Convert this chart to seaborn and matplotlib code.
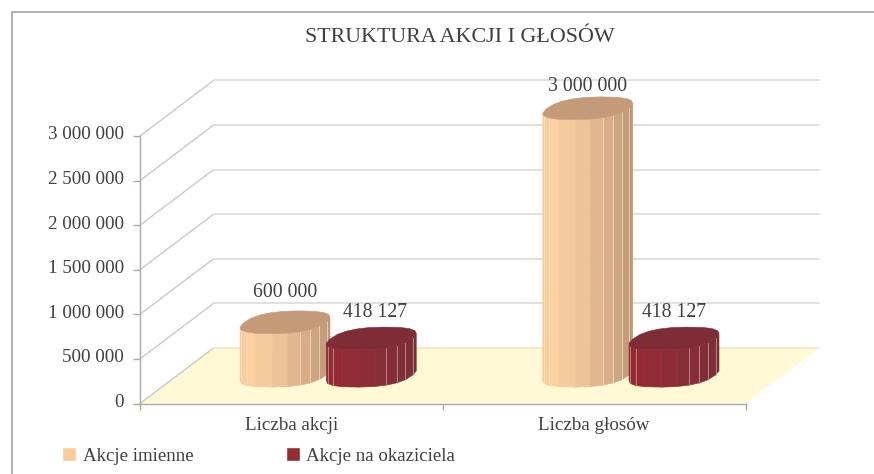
import numpy as np
import pandas as pd
import matplotlib
matplotlib.use("Agg")
import matplotlib.pyplot as plt
import matplotlib.transforms as mtrans
from matplotlib.lines import Line2D
import seaborn as sns

title = "STRUKTURA AKCJI I GŁOSÓW"
categories = ["Liczba akcji", "Liczba głosów"]
series_names = ["Akcje imienne", "Akcje na okaziciela"]
akcje_imienne = [600000, 3000000]
akcje_na_okaziciela = [418127, 418127]
y_ticks = [0, 500000, 1000000, 1500000, 2000000, 2500000, 3000000]

TEXT = "#404040"
GRID = "#DFDADA"
DIAG = "#CFC8C4"
AXIS = "#B0A8A4"
FLOOR = "#FFFAD5"

body_ramps = [
    ["#F4CA9E", "#FDD1A0", "#F1C79B", "#DDB38D", "#CBA380", "#BD9675"],
    ["#8A2B33", "#952B33", "#8F2C34", "#862E37", "#7F2F37", "#7A2F36"],
]
top_colors = ["#C49A79", "#7E2C35"]
line_colors = ["#FFE3C4", "#D8A4A4"]

sns.set_theme(style="white")
plt.rcParams["font.family"] = ["Liberation Serif", "DejaVu Serif"]


def fmt(v):
    return f"{v:,}".replace(",", " ")


df = pd.DataFrame({
    "kategoria": categories * 2,
    "seria": [series_names[0]] * 2 + [series_names[1]] * 2,
    "wartosc": akcje_imienne + akcje_na_okaziciela,
})

fig = plt.figure(figsize=(8.74, 4.74), dpi=100)
ax = fig.add_axes([140 / 874, (474 - 403.5) / 474, 605.5 / 874, 267.5 / 474])

sns.barplot(data=df, x="kategoria", y="wartosc", hue="seria", order=categories,
            hue_order=series_names, palette=["#FBCB98", "#942C31"], saturation=1,
            width=0.57, errorbar=None, ax=ax)

xmin, xmax, ymin, ymax = -0.5, 1.5, 0, 3000000
ax.set_xlim(xmin, xmax)
ax.set_ylim(ymin, ymax)

# depth of the fake 3d box, in data units
px_x = (xmax - xmin) / 605.5
px_y = (ymax - ymin) / 267.5
DX = 73.5 * px_x
DY = 55.5 * px_y

# floor and walls
ax.fill([xmin, xmax, xmax + DX, xmin + DX], [0, 0, DY, DY], color=FLOOR, lw=0,
        clip_on=False, zorder=1)
for v in y_ticks:
    ax.plot([xmin, xmin + DX], [v, v + DY], color=DIAG, lw=1, clip_on=False, zorder=1.5)
    if v > 0:
        ax.plot([xmin + DX, xmax + DX], [v + DY, v + DY], color=GRID, lw=1.2,
                clip_on=False, zorder=1.5)
ax.plot([xmin + DX, xmax + DX], [DY, DY], color="#EFE9CF", lw=1.3, clip_on=False, zorder=1.5)


# cylinders are built from the bars seaborn has placed
def cylinder(bar, ramp, top_color, line_color, z, gap, nudge):
    cx = bar.get_x() + bar.get_width() / 2 + 0.5 * DX
    base = 0.5 * DY
    h = bar.get_height()
    a = bar.get_width() * 0.47
    c = 0.205

    # slightly squared ring, the original shape is blunter than an ellipse
    def ring(t):
        t = np.radians(t)
        co = np.sign(np.cos(t)) * np.abs(np.cos(t)) ** 0.8
        si = np.sign(np.sin(t)) * np.abs(np.sin(t)) ** 0.8
        return cx + a * co + c * si * DX, base + c * si * DY

    colors = sns.blend_palette(ramp, 10)
    angles = 200 + 18 * np.arange(11)
    for i in range(10):
        x0, y0 = ring(angles[i])
        x1, y1 = ring(angles[i + 1])
        ax.fill([x0, x1, x1, x0], [y0, y1, y1 + h, y0 + h], color=colors[i], lw=0.4,
                clip_on=False, zorder=z)
        if i < 9 and i not in (2, 3, 4):
            ax.plot([x1, x1], [y1, y1 + h], color=line_color, lw=0.6, alpha=0.8,
                    clip_on=False, zorder=z + 0.1)
    xs, ys = ring(np.arange(0, 360, 18) + 2)
    ax.fill(xs, ys + h, color=top_color, lw=0.4, clip_on=False, zorder=z + 0.2)
    ax.annotate(fmt(int(h)), (cx, base + h), xytext=(nudge * 0.72, gap * 0.72),
                textcoords="offset points", ha="center", va="center", fontsize=14.2,
                color=TEXT, zorder=z + 0.3, annotation_clip=False)
    bar.set_visible(False)


label_gaps = [[30, 22], [26, 26]]
label_nudges = [[0, 0], [4, 0]]
for s, container in enumerate(ax.containers):
    for b, bar in enumerate(container):
        cylinder(bar, body_ramps[s], top_colors[s], line_colors[s], 3 + s,
                 label_gaps[s][b], label_nudges[s][b])

# axes
sns.despine(ax=ax, top=True, right=True)
for side in ["left", "bottom"]:
    ax.spines[side].set_color(AXIS)
    ax.spines[side].set_linewidth(1)
ax.spines["bottom"].set_zorder(2)
ax.set_xlabel("")
ax.set_ylabel("")
ax.set_yticks(y_ticks, [fmt(v) for v in y_ticks])
ax.set_xticks([xmin, 0.5, xmax], ["", "", ""])
ax.set_xticks([0, 1], categories, minor=True)
ax.tick_params(axis="y", length=5, width=1, color=AXIS, labelsize=13.8, labelcolor=TEXT, pad=6.7, left=True)
ax.tick_params(axis="x", which="major", length=4.5, width=1, color=AXIS, bottom=True)
ax.tick_params(axis="x", which="minor", length=0, labelsize=13.7, labelcolor=TEXT, pad=10)
shift_up = mtrans.ScaledTranslation(0, 3 / 100, fig.dpi_scale_trans)
for lab in ax.get_yticklabels():
    lab.set_transform(lab.get_transform() + shift_up)

fig.suptitle(title, x=459.5 / 874, y=1 - 38 / 474, va="center", fontsize=15.8, color=TEXT)

sns.move_legend(ax, loc="lower left", bbox_to_anchor=(62 / 874, 9 / 474),
                bbox_transform=fig.transFigure, ncols=2, title=None, frameon=False,
                fontsize=13.6, labelcolor=TEXT, handlelength=0.75, handleheight=0.75,
                handletextpad=0.34, columnspacing=4.9, borderpad=0, borderaxespad=0)

# outer frame, cut off by the picture edge
fig.add_artist(Line2D([11.5 / 874, 11.5 / 874, 1], [0, 1 - 12 / 474, 1 - 12 / 474],
                      color="#A89F9B", lw=1.2, transform=fig.transFigure))

fig.savefig("out.png", dpi=100)
